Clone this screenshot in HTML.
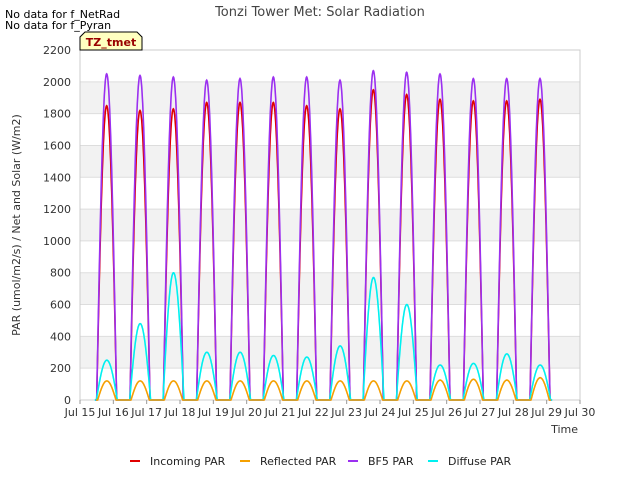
<!DOCTYPE html>
<html><head><meta charset="utf-8"><style>
body{margin:0;background:#fff;font-family:"Liberation Sans","DejaVu Sans",sans-serif}
svg text{font-family:"DejaVu Sans","Liberation Sans",sans-serif}
</style></head><body>
<svg id="c" width="640" height="480" xmlns="http://www.w3.org/2000/svg">
<text x="320" y="16" font-size="13" fill="#444" text-anchor="middle">Tonzi Tower Met: Solar Radiation</text>
<text x="5" y="18" font-size="11" fill="#000">No data for f_NetRad</text>
<text x="5" y="29" font-size="11" fill="#000">No data for f_Pyran</text>
<g id="grid"></g>
<rect x="80" y="50" width="500" height="350" fill="none" stroke="#ccc"/>
<g id="series"></g>
<g id="axes"></g>
<g>
<path d="M80,50 L80,37 L85,32 L137,32 L142,37 L142,50 Z" fill="#ffffc0" stroke="#000"/>
<text x="111" y="46" font-size="11" font-weight="bold" fill="#900" text-anchor="middle">TZ_tmet</text>
</g>
<text x="20" y="225" font-size="11" fill="#333" text-anchor="middle" transform="rotate(-90 20 225)">PAR (umol/m2/s) / Net and Solar (W/m2)</text>
<text x="578" y="433" font-size="11" fill="#333" text-anchor="end">Time</text>
<g id="legend"></g>
</svg>
<script>
const days=[15,16,17,18,19,20,21,22,23,24,25,26,27,28];
const incomingPeak=[1850,1820,1830,1870,1870,1870,1850,1830,1950,1920,1890,1880,1880,1890];
const bf5Peak=[2050,2040,2030,2010,2020,2030,2030,2010,2070,2060,2050,2020,2020,2020];
const diffusePeak=[250,480,800,300,300,280,270,340,770,600,220,230,290,220];
const reflectedPeak=[120,120,120,120,120,120,120,120,120,120,125,130,125,140];
const yTicks=[0,200,400,600,800,1000,1200,1400,1600,1800,2000,2200];
const xTicks=[15,16,17,18,19,20,21,22,23,24,25,26,27,28,29,30];
const NS="http://www.w3.org/2000/svg";
const X=d=>80+(d-15)*500/15, Y=v=>400-v*350/2200;
function mk(t,a,p){const e=document.createElementNS(NS,t);for(const k in a)e.setAttribute(k,a[k]);p.appendChild(e);return e;}
const grid=document.getElementById('grid'),axes=document.getElementById('axes');
for(let i=0;i<yTicks.length-1;i++){
 if(i%2==1){const r=mk('rect',{x:80,y:Y(yTicks[i+1]),width:500,height:Y(yTicks[i])-Y(yTicks[i+1]),fill:'#f2f2f2'},grid);
 
 }
}
yTicks.forEach(v=>{
 const l=mk('line',{x1:80,x2:580,y1:Y(v),y2:Y(v),stroke:'#ddd'},grid);
 
 
 const t=mk('text',{x:71,y:Y(v)+4,'font-size':11,fill:'#333','text-anchor':'end'},axes);t.textContent=v;
 
 
});
xTicks.forEach(d=>{
 mk('line',{x1:X(d),x2:X(d),y1:400,y2:404,stroke:'#999'},axes);
 const t=mk('text',{x:X(d),y:416,'font-size':11,fill:'#333','text-anchor':'middle'},axes);t.textContent='Jul '+d;
 
 
});
const ser=document.getElementById('series');
function draw(peaks,color,rise,set,name){
 let pts=[];
 days.forEach((d,i)=>{
  pts.push([X(d+rise-0.05),Y(0)]);
  for(let f=rise;f<=set+1e-9;f+=0.01){
   const s=Math.sin(Math.PI*(f-rise)/(set-rise));
   pts.push([X(d+f),Y(peaks[i]*Math.max(s,0))]);
  }
  pts.push([X(d+set+0.05),Y(0)]);
 });
 const p=mk('polyline',{points:pts.map(q=>q[0].toFixed(1)+','+q[1].toFixed(1)).join(' '),fill:'none',stroke:color,'stroke-width':1.6},ser);
 
 
}
draw(incomingPeak,'#e00000',0.5,1.1,'incoming-par-line');
draw(bf5Peak,'#9b30f0',0.5,1.1,'bf5-par-line');
draw(diffusePeak,'#00f0f0',0.49,1.12,'diffuse-par-line');
draw(reflectedPeak,'#f5a000',0.53,1.08,'reflected-par-line');
const leg=document.getElementById('legend');
[['Incoming PAR','#e00000',130],['Reflected PAR','#f5a000',240],['BF5 PAR','#9b30f0',348],['Diffuse PAR','#00f0f0',428]].forEach(e=>{
 const g=mk('g',{},leg);
 
 
 mk('line',{x1:e[2],x2:e[2]+10,y1:461,y2:461,stroke:e[1],'stroke-width':2},g);
 const t=mk('text',{x:e[2]+20,y:465,'font-size':11,fill:'#222'},g);t.textContent=e[0];
});
</script>
</body></html>
